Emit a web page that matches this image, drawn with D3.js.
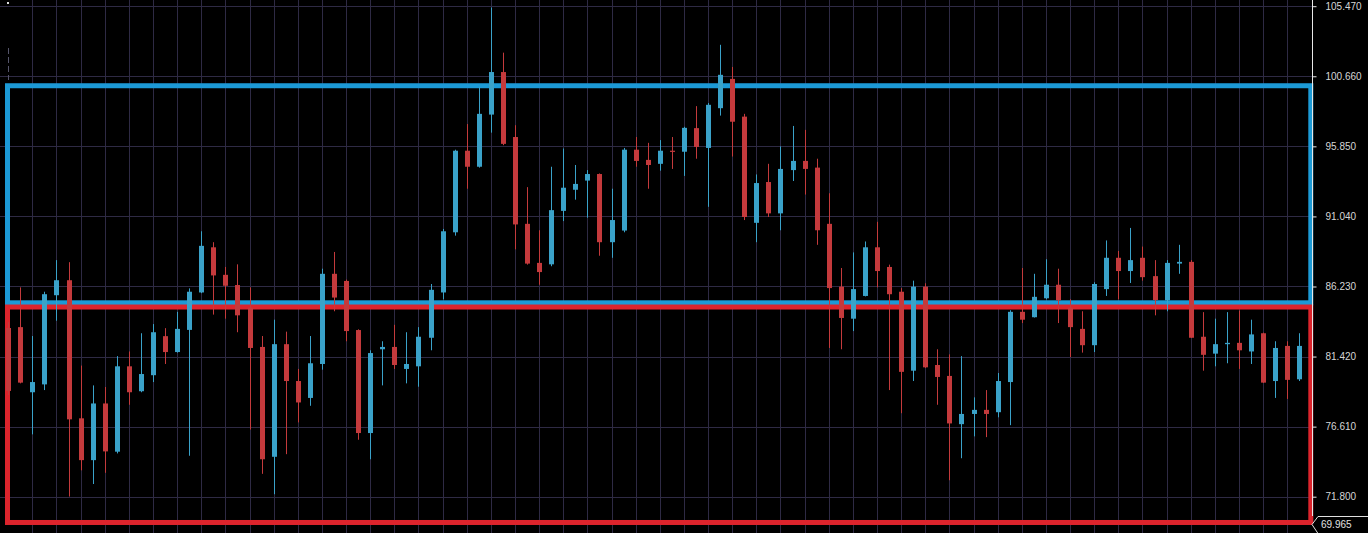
<!DOCTYPE html>
<html>
<head>
<meta charset="utf-8">
<script src="https://cdn.jsdelivr.net/npm/d3@7"></script>
<style>
  html, body { margin: 0; padding: 0; background: #000; }
  svg { display: block; }
</style>
</head>
<body>
<svg id="chart" width="1368" height="533"></svg>
<script>
// ---- data (index -1 .. 106) ----
const candleIndex = d3.range(-1, 107);
const opens = [83.38,
  83.44, 78.97, 79.51, 85.63, 86.66, 77.18, 74.31, 78.20, 74.89, 80.75,
  79.04, 80.14, 82.82, 81.73, 83.25, 85.82, 88.92, 87.03, 86.33, 84.77,
  82.08, 74.54, 82.27, 79.74, 78.58, 80.91, 87.10, 86.61, 83.24, 76.17,
  81.92, 82.08, 80.57, 80.75, 82.71, 85.82, 89.95, 95.55, 94.45, 98.03,
  100.95, 96.49, 90.53, 87.85, 87.75, 91.42, 92.87, 93.50, 93.95, 89.27,
  90.07, 95.62, 94.92, 94.65, 95.55, 95.48, 97.10, 95.74, 98.47, 100.48,
  97.89, 90.60, 93.40, 91.25, 94.22, 94.85, 94.39, 90.53, 86.22, 84.02,
  85.58, 88.92, 87.57, 85.87, 80.45, 86.22, 80.84, 80.09, 76.78, 77.48,
  77.76, 77.60, 79.67, 84.49, 84.12, 85.42, 86.35, 84.77, 83.32, 82.20,
  86.05, 88.20, 87.29, 88.20, 86.94, 85.28, 87.80, 87.92, 82.78, 81.62,
  82.27, 82.36, 81.77, 83.02, 79.74, 82.15, 79.86];
const highs = [83.79,
  86.17, 82.83, 85.87, 88.04, 87.90, 80.80, 79.44, 79.33, 81.45, 81.77,
  83.02, 83.65, 83.37, 84.49, 86.10, 90.02, 89.27, 87.57, 87.75, 86.17,
  82.83, 83.95, 83.13, 80.57, 82.83, 87.45, 88.60, 86.70, 83.29, 81.85,
  82.47, 83.60, 83.09, 83.44, 86.40, 90.18, 95.62, 97.38, 99.95, 105.38,
  102.28, 97.30, 93.05, 90.09, 94.45, 95.70, 94.57, 94.22, 93.99, 92.94,
  95.74, 96.49, 96.09, 96.28, 96.49, 97.19, 98.61, 98.82, 102.82, 101.30,
  98.08, 93.92, 94.65, 95.85, 97.25, 96.98, 95.00, 92.63, 87.50, 88.57,
  89.32, 90.67, 87.73, 86.12, 86.63, 86.45, 81.92, 81.57, 81.45, 78.62,
  79.12, 80.29, 84.60, 87.50, 87.10, 88.10, 87.45, 85.35, 84.53, 86.52,
  89.39, 88.67, 90.25, 88.97, 88.04, 88.04, 89.09, 88.04, 84.47, 84.02,
  84.47, 84.58, 83.95, 83.06, 82.47, 82.47, 83.02];
const lows = [78.78,
  79.58, 76.08, 79.12, 83.88, 71.81, 73.61, 72.67, 73.44, 74.77, 78.11,
  78.97, 79.67, 80.91, 81.69, 74.61, 85.77, 84.30, 84.02, 83.09, 76.41,
  73.37, 71.97, 74.72, 76.90, 78.04, 80.52, 84.53, 82.47, 75.71, 74.37,
  79.44, 80.57, 79.58, 79.35, 81.85, 85.35, 89.72, 92.94, 94.39, 96.79,
  95.93, 88.78, 87.73, 86.35, 87.62, 90.72, 92.19, 90.95, 88.34, 88.20,
  89.95, 94.45, 92.94, 94.18, 94.30, 93.82, 95.00, 91.70, 97.96, 95.15,
  90.79, 89.27, 91.00, 90.09, 93.47, 92.54, 89.09, 82.01, 81.92, 83.17,
  85.55, 86.17, 79.12, 77.53, 79.74, 80.63, 78.11, 72.93, 74.44, 75.94,
  75.89, 77.25, 76.71, 83.72, 84.10, 85.35, 83.72, 81.38, 81.69, 81.73,
  85.58, 85.35, 86.47, 86.63, 84.25, 84.53, 87.10, 82.70, 80.45, 80.75,
  80.96, 80.57, 80.91, 79.61, 78.58, 78.51, 79.74];
const closes = [79.06,
  79.63, 79.67, 85.70, 86.66, 77.11, 74.31, 78.20, 74.91, 80.75, 78.97,
  80.22, 83.09, 81.73, 83.32, 85.87, 89.02, 86.99, 86.28, 84.25, 82.01,
  74.37, 82.27, 79.74, 78.27, 80.96, 87.10, 85.47, 83.17, 76.17, 81.66,
  82.08, 80.84, 80.91, 82.78, 86.00, 90.02, 95.55, 94.45, 98.08, 100.95,
  96.02, 90.49, 87.80, 87.22, 91.47, 93.01, 93.27, 93.95, 89.27, 90.79,
  95.62, 94.85, 94.57, 95.55, 95.48, 97.12, 95.81, 98.70, 100.76, 97.54,
  91.00, 93.33, 91.25, 94.30, 94.85, 94.30, 90.09, 86.12, 84.07, 86.05,
  88.92, 87.29, 85.70, 80.37, 86.22, 80.68, 80.02, 76.83, 77.48, 77.76,
  77.48, 79.74, 84.49, 83.95, 85.52, 86.35, 85.28, 83.44, 82.20, 86.40,
  88.20, 87.29, 88.04, 86.87, 85.30, 87.85, 87.92, 82.71, 81.54, 82.27,
  82.36, 81.85, 82.94, 79.63, 82.01, 79.82, 82.15];
const tickValues = [71.800, 76.610, 81.420, 86.230, 91.040, 95.850, 100.660, 105.470];
const currentPrice = 69.965;
// zones (price bounds)
const blueZone = [85.11, 100.01];
const redZone = [70.03, 84.82];

const candles = candleIndex.map((i, k) => ({
  i, o: opens[k], h: highs[k], l: lows[k], c: closes[k]
}));

// ---- layout ----
const W = 1368, H = 533;
const axisX = 1312;
const svg = d3.select("#chart");
svg.append("rect").attr("width", W).attr("height", H).attr("fill", "#000");

const x = d3.scaleLinear().domain([-1, 106]).range([8.2, 1299.3]);
const y = d3.scaleLinear().domain([71.8, 105.47]).range([496.7, 6.2]);

const gridColor = "#2e2a44";
// horizontal grid
svg.append("g").selectAll("line").data(tickValues).join("line")
  .attr("x1", 0).attr("x2", axisX)
  .attr("y1", d => Math.round(y(d)) + 0.5).attr("y2", d => Math.round(y(d)) + 0.5)
  .attr("stroke", gridColor).attr("stroke-width", 1);
// vertical grid (every second candle)
const vIdx = candleIndex.filter(i => i > 0 && i % 2 === 1);
svg.append("g").selectAll("line").data(vIdx).join("line")
  .attr("x1", d => Math.round(x(d)) + 0.5).attr("x2", d => Math.round(x(d)) + 0.5)
  .attr("y1", 0).attr("y2", H)
  .attr("stroke", gridColor).attr("stroke-width", 1);

// small marks top-left
svg.append("line").attr("x1", 8.5).attr("x2", 8.5).attr("y1", 48).attr("y2", 80)
  .attr("stroke", "#55556a").attr("stroke-dasharray", "6,3");
svg.append("rect").attr("x", 7).attr("y", 2).attr("width", 2).attr("height", 2).attr("fill", "#ddd");

// zones (drawn beneath candles)
const zoneG = svg.append("g");
zoneG.append("rect")
  .attr("x", 7.5).attr("y", y(blueZone[1]))
  .attr("width", 1310.8 - 7.5).attr("height", y(blueZone[0]) - y(blueZone[1]))
  .attr("fill", "none").attr("stroke", "#1c9ad6").attr("stroke-width", 5);
zoneG.append("rect")
  .attr("x", 7.5).attr("y", y(redZone[1]))
  .attr("width", 1310.8 - 7.5).attr("height", y(redZone[0]) - y(redZone[1]))
  .attr("fill", "none").attr("stroke", "#dc242c").attr("stroke-width", 5);

// candles
const upCol = "#3aa2c9", downCol = "#c43a3c";
const cg = svg.append("g").selectAll("g").data(candles).join("g");
cg.append("line")
  .attr("x1", d => Math.round(x(d.i)) + 0.5).attr("x2", d => Math.round(x(d.i)) + 0.5)
  .attr("y1", d => y(d.h)).attr("y2", d => y(d.l))
  .attr("stroke", d => d.c >= d.o ? upCol : downCol).attr("stroke-width", 1);
const bw = 5;
cg.append("rect")
  .attr("x", d => Math.round(x(d.i)) + 0.5 - bw / 2)
  .attr("y", d => y(Math.max(d.o, d.c)))
  .attr("width", bw)
  .attr("height", d => Math.max(1.2, Math.abs(y(d.o) - y(d.c))))
  .attr("fill", d => d.c >= d.o ? upCol : downCol);

// right axis
const axis = d3.axisRight(y).tickValues(tickValues).tickFormat(d3.format(".3f"))
  .tickSize(4).tickPadding(9);
const ag = svg.append("g").attr("transform", `translate(${axisX + 0.5},0)`).call(axis);
ag.select(".domain").remove();
ag.selectAll(".tick line").attr("stroke", "#e8e8e8");
ag.selectAll(".tick text").attr("fill", "#d6d6d6")
  .attr("font-family", "'Liberation Sans', Arial, sans-serif").attr("font-size", 10);
svg.append("line").attr("x1", axisX + 0.5).attr("x2", axisX + 0.5)
  .attr("y1", 0).attr("y2", 516).attr("stroke", "#e8e8e8").attr("stroke-width", 1);

// current price label
const py = 524.5;
svg.append("path")
  .attr("d", `M${axisX},${py} L${axisX + 6},${py - 8} L${W + 2},${py - 8} L${W + 2},${py + 9} L${axisX + 6},${py + 9} Z`)
  .attr("fill", "#000").attr("stroke", "#e0e0e0").attr("stroke-width", 1);
svg.append("text").attr("x", axisX + 9).attr("y", py + 3.5)
  .attr("fill", "#e0e0e0").attr("font-family", "'Liberation Sans', Arial, sans-serif")
  .attr("font-size", 10).text(d3.format(".3f")(currentPrice));
</script>
</body>
</html>
